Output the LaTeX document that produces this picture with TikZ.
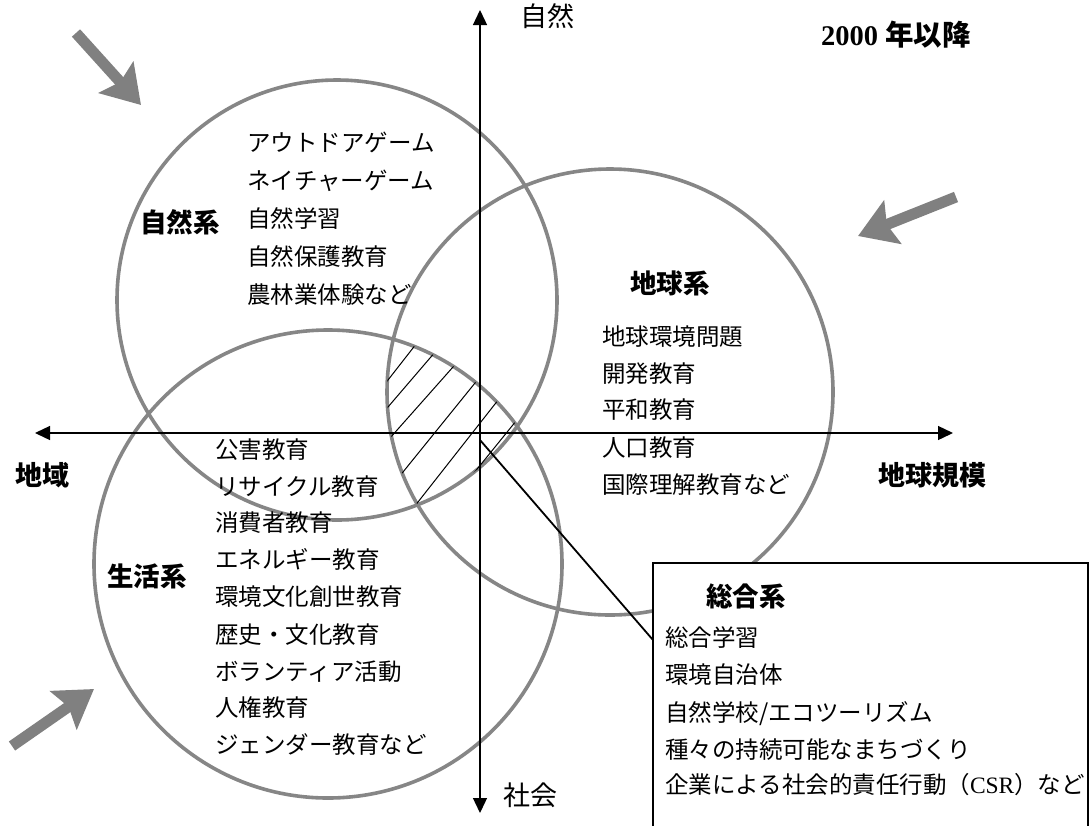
\documentclass[tikz,border=0pt]{standalone}
\usepackage{fontspec}
\setmainfont{Liberation Serif}
\newfontfamily\jp{Noto Sans CJK JP}
\usetikzlibrary{arrows.meta,calc}
\definecolor{ringgray}{HTML}{868686}
\definecolor{blockgray}{HTML}{808080}
\begin{document}
\begin{tikzpicture}[x=1pt,y=-1pt,
  ring/.style={draw=ringgray, line width=3.6pt},
  item/.style={anchor=west, inner sep=0pt, font=\jp\fontsize{23.5}{23.5}\selectfont, text height=0.85em, text depth=0.15em},
  head/.style={inner sep=0pt, font=\jp\bfseries\fontsize{26.5}{26.5}\selectfont, text height=0.85em, text depth=0.15em},
  axislabel/.style={inner sep=0pt, font=\jp\fontsize{27}{27}\selectfont, text height=0.85em, text depth=0.15em},
  axis/.style={line width=1.3pt, -{Triangle[length=15pt,width=14pt]}},
  bigarrow/.style={draw=blockgray, line width=11pt, -{Stealth[length=37pt,width=46pt,inset=6pt]}},
  hatch/.style={line width=1pt},
]
\useasboundingbox (0,0) rectangle (1091,825);
\fill[white] (0,0) rectangle (1091,825);

% circles
\coordinate (cN) at (337,300);
\coordinate (cE) at (610,392);
\coordinate (cL) at (328,564);
\draw[ring] (cN) circle[radius=220pt];
\draw[ring] (cE) circle[radius=223pt];
\draw[ring] (cL) circle[radius=234pt];

% hatched common region
\begin{scope}
  \clip (cN) circle[radius=220pt];
  \clip (cE) circle[radius=223pt];
  \clip (cL) circle[radius=234pt];
  \foreach \ax/\ay/\bx/\by in {388/380/413/348, 388/407/430/358, 390/438/453/367,
      403/472/475/383, 418/502/495/404, 478/468/512/426}{
    \draw[hatch] ($(\ax,\ay)!-0.4!(\bx,\by)$) -- ($(\ax,\ay)!1.4!(\bx,\by)$);
  }
\end{scope}

% axes
\coordinate (top) at (480,10);
\coordinate (bottom) at (480,813);
\coordinate (left) at (35,433);
\coordinate (right) at (953,433);
\coordinate (mid) at (480,433);
\draw[axis] (mid) -- (top);
\draw[axis] (mid) -- (bottom);
\draw[axis] (mid) -- (left);
\draw[axis] (mid) -- (right);

\node[axislabel] (lblN) at (547,23) {自然};
\node[axislabel] (lblS) at (530,802) {社会};
\node[axislabel, font=\jp\bfseries\fontsize{27}{27}\selectfont] (lblW) at (43,482) {地域};
\node[axislabel, font=\jp\bfseries\fontsize{27}{27}\selectfont] (lblE) at (932,482) {地球規模};

\node[inner sep=0pt, font=\bfseries\fontsize{28.5}{28.5}\selectfont] (year) at (896,35) {2000 {\jp 年以降}};

% headings
\node[head] (hN) at (180,229) {自然系};
\node[head] (hE) at (670,290) {地球系};
\node[head] (hL) at (147,583) {生活系};

% item lists
\foreach \t/\y [count=\i] in {アウトドアゲーム/148, ネイチャーゲーム/186, 自然学習/224, 自然保護教育/262, 農林業体験など/300}
  \node[item] (nat\i) at (247,\y) {\t};
\foreach \t/\y [count=\i] in {地球環境問題/342, 開発教育/379, 平和教育/415, 人口教育/453, 国際理解教育など/490}
  \node[item] (glob\i) at (602,\y) {\t};
\foreach \t/\y [count=\i] in {公害教育/455, リサイクル教育/492, 消費者教育/528, エネルギー教育/565, 環境文化創世教育/602, 歴史・文化教育/640, ボランティア活動/677, 人権教育/713, ジェンダー教育など/750}
  \node[item] (life\i) at (215,\y) {\t};

% connector and box
\coordinate (hub) at (480,440);
\coordinate (pin) at (653,640);
\coordinate (boxtl) at (653,563);
\coordinate (boxtr) at (1088,563);
\draw[line width=1.8pt] (hub) -- (pin);
\fill[white] (boxtl) rectangle (1088,830);
\draw[line width=1.8pt] (653,830) -- (boxtl) -- (boxtr) -- (1088,830);
\node[head] (hS) at (746,603) {総合系};
\foreach \t/\y [count=\i] in {総合学習/643, 環境自治体/680, {自然学校/エコツーリズム}/718, 種々の持続可能なまちづくり/755}
  \node[item] (syn\i) at (665,\y) {\t};
\node[item] (syn5) at (665,790) {企業による社会的責任行動（{\rmfamily CSR}）など};

% block arrows
\draw[bigarrow] (76,33) -- (141,105);
\draw[bigarrow] (956,197) -- (858,236);
\draw[bigarrow] (12,746) -- (94,689);
\end{tikzpicture}
\end{document}
